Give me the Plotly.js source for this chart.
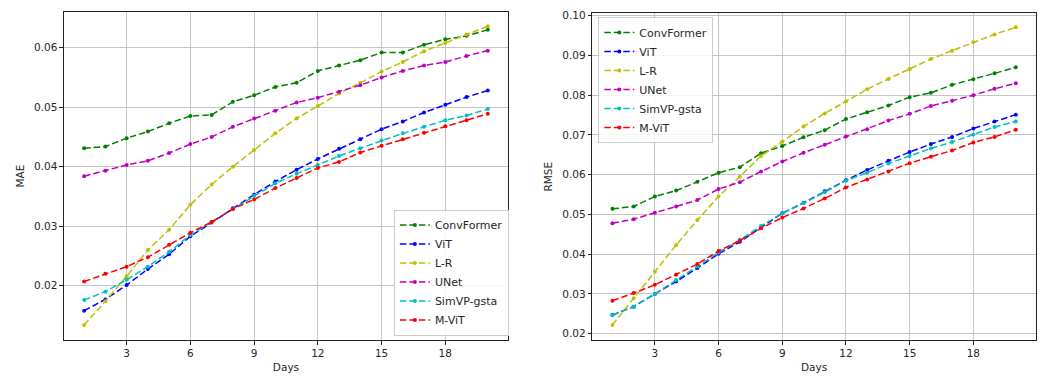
<!DOCTYPE html>
<html>
<head>
<meta charset="utf-8">
<script src="https://cdn.plot.ly/plotly-3.0.1.min.js"></script>
<style>
  html, body { margin: 0; padding: 0; background: #fff; }
  #chart { width: 1042px; height: 377px; }
</style>
</head>
<body>
<div id="chart"></div>
<script>
const days = [1, 2, 3, 4, 5, 6, 7, 8, 9, 10, 11, 12, 13, 14, 15, 16, 17, 18, 19, 20];
const modelNames = ["ConvFormer", "ViT", "L-R", "UNet", "SimVP-gsta", "M-ViT"];
const xTickVals = [3, 6, 9, 12, 15, 18];

const maeConvFormer = [0.0431, 0.0434, 0.0448, 0.0459, 0.0473, 0.0485, 0.0487, 0.0509, 0.0520, 0.0534, 0.0541, 0.0561, 0.0570, 0.0579, 0.0592, 0.0592, 0.0605, 0.0614, 0.0620, 0.0630];
const maeViT = [0.0158, 0.0177, 0.0201, 0.0228, 0.0253, 0.0283, 0.0306, 0.0330, 0.0353, 0.0375, 0.0395, 0.0413, 0.0430, 0.0446, 0.0463, 0.0476, 0.0491, 0.0504, 0.0517, 0.0528];
const maeLR = [0.0134, 0.0174, 0.0216, 0.0260, 0.0294, 0.0336, 0.0370, 0.0400, 0.0428, 0.0456, 0.0481, 0.0502, 0.0523, 0.0541, 0.0560, 0.0576, 0.0594, 0.0608, 0.0622, 0.0636];
const maeUNet = [0.0384, 0.0393, 0.0403, 0.0410, 0.0423, 0.0438, 0.0450, 0.0467, 0.0481, 0.0494, 0.0508, 0.0516, 0.0526, 0.0537, 0.0550, 0.0561, 0.0570, 0.0576, 0.0586, 0.0595];
const maeSimVP = [0.0176, 0.0190, 0.0210, 0.0232, 0.0257, 0.0285, 0.0307, 0.0329, 0.0351, 0.0372, 0.0388, 0.0403, 0.0418, 0.0431, 0.0444, 0.0456, 0.0467, 0.0478, 0.0486, 0.0497];
const maeMViT = [0.0207, 0.0220, 0.0232, 0.0248, 0.0269, 0.0289, 0.0307, 0.0329, 0.0345, 0.0364, 0.0381, 0.0398, 0.0408, 0.0424, 0.0435, 0.0446, 0.0457, 0.0468, 0.0478, 0.0489];

const rmseConvFormer = [0.0514, 0.0520, 0.0545, 0.0560, 0.0582, 0.0605, 0.0619, 0.0654, 0.0672, 0.0694, 0.0712, 0.0740, 0.0757, 0.0774, 0.0795, 0.0806, 0.0826, 0.0840, 0.0855, 0.0870];
const rmseViT = [0.0247, 0.0268, 0.0300, 0.0331, 0.0365, 0.0401, 0.0431, 0.0466, 0.0503, 0.0529, 0.0558, 0.0586, 0.0612, 0.0635, 0.0657, 0.0677, 0.0695, 0.0716, 0.0734, 0.0751];
const rmseLR = [0.0222, 0.0289, 0.0356, 0.0423, 0.0486, 0.0545, 0.0595, 0.0647, 0.0683, 0.0721, 0.0754, 0.0784, 0.0815, 0.0841, 0.0866, 0.0891, 0.0912, 0.0933, 0.0953, 0.0971];
const rmseUNet = [0.0478, 0.0488, 0.0504, 0.0520, 0.0536, 0.0564, 0.0581, 0.0608, 0.0633, 0.0655, 0.0675, 0.0696, 0.0714, 0.0736, 0.0753, 0.0773, 0.0786, 0.0800, 0.0816, 0.0830];
const rmseSimVP = [0.0247, 0.0268, 0.0300, 0.0335, 0.0369, 0.0404, 0.0436, 0.0471, 0.0503, 0.0528, 0.0556, 0.0585, 0.0605, 0.0628, 0.0647, 0.0666, 0.0682, 0.0701, 0.0720, 0.0734];
const rmseMViT = [0.0283, 0.0302, 0.0323, 0.0348, 0.0375, 0.0408, 0.0434, 0.0465, 0.0492, 0.0515, 0.0540, 0.0568, 0.0588, 0.0608, 0.0629, 0.0645, 0.0661, 0.0681, 0.0695, 0.0713];

const seriesColors = ["#008000", "#0000ff", "#bfbf00", "#bf00bf", "#00bfbf", "#ff0000"];

const maeSeries = [maeConvFormer, maeViT, maeLR, maeUNet, maeSimVP, maeMViT];
const rmseSeries = [rmseConvFormer, rmseViT, rmseLR, rmseUNet, rmseSimVP, rmseMViT];

const FONT = "DejaVu Sans, sans-serif";
const TXT = "#262626";

function makeTrace(ys, i, xa, ya, leg) {
  return {
    type: "scatter",
    mode: "lines+markers",
    x: days,
    y: ys,
    name: modelNames[i],
    xaxis: xa,
    yaxis: ya,
    legend: leg,
    line: { color: seriesColors[i], width: 1.5, dash: "6.5px,3px" },
    marker: { color: seriesColors[i], size: 4, symbol: "circle" },
    hoverinfo: "skip"
  };
}

const traces = [];
maeSeries.forEach((s, i) => traces.push(makeTrace(s, i, "x", "y", "legend")));
rmseSeries.forEach((s, i) => traces.push(makeTrace(s, i, "x2", "y2", "legend2")));

const axisCommon = {
  showline: true,
  mirror: true,
  linecolor: "#222",
  linewidth: 1,
  showgrid: true,
  gridcolor: "#c4c4c4",
  gridwidth: 1,
  zeroline: false,
  ticks: "outside",
  ticklen: 3.5,
  tickwidth: 1,
  tickcolor: "#222",
  tickfont: { family: FONT, size: 10.5, color: TXT }
};

const layout = {
  width: 1042,
  height: 377,
  margin: { l: 0, r: 0, t: 0, b: 0 },
  paper_bgcolor: "#ffffff",
  plot_bgcolor: "#ffffff",
  font: { family: FONT, color: TXT },
  xaxis: Object.assign({}, axisCommon, {
    domain: [0.0614, 0.4875],
    range: [0.05, 20.95],
    tickvals: xTickVals,
    anchor: "y",
    title: { text: "Days", font: { family: FONT, size: 10.5, color: TXT }, standoff: 5 }
  }),
  yaxis: Object.assign({}, axisCommon, {
    domain: [0.0981, 0.9682],
    range: [0.01087, 0.0660],
    tickvals: [0.02, 0.03, 0.04, 0.05, 0.06],
    tickformat: ".2f",
    anchor: "x",
    title: { text: "MAE", font: { family: FONT, size: 10.5, color: TXT }, standoff: 7 }
  }),
  xaxis2: Object.assign({}, axisCommon, {
    domain: [0.5684, 0.9942],
    range: [0.05, 20.95],
    tickvals: xTickVals,
    anchor: "y2",
    title: { text: "Days", font: { family: FONT, size: 10.5, color: TXT }, standoff: 5 }
  }),
  yaxis2: Object.assign({}, axisCommon, {
    domain: [0.0981, 0.9647],
    range: [0.0184, 0.1006],
    tickvals: [0.02, 0.03, 0.04, 0.05, 0.06, 0.07, 0.08, 0.09, 0.10],
    tickformat: ".2f",
    anchor: "x2",
    title: { text: "RMSE", font: { family: FONT, size: 10.5, color: TXT }, standoff: 7 }
  }),
  legend: {
    x: 0.378, y: 0.11, xanchor: "left", yanchor: "bottom",
    bgcolor: "rgba(255,255,255,0.85)",
    bordercolor: "#cccccc", borderwidth: 1,
    font: { family: FONT, size: 11, color: TXT },
    itemwidth: 30,
    tracegroupgap: 0
  },
  legend2: {
    x: 0.5742, y: 0.955, xanchor: "left", yanchor: "top",
    bgcolor: "rgba(255,255,255,0.85)",
    bordercolor: "#cccccc", borderwidth: 1,
    font: { family: FONT, size: 11, color: TXT },
    itemwidth: 30,
    tracegroupgap: 0
  },
  showlegend: true
};

Plotly.newPlot("chart", traces, layout, { staticPlot: true, displayModeBar: false });
</script>
</body>
</html>
